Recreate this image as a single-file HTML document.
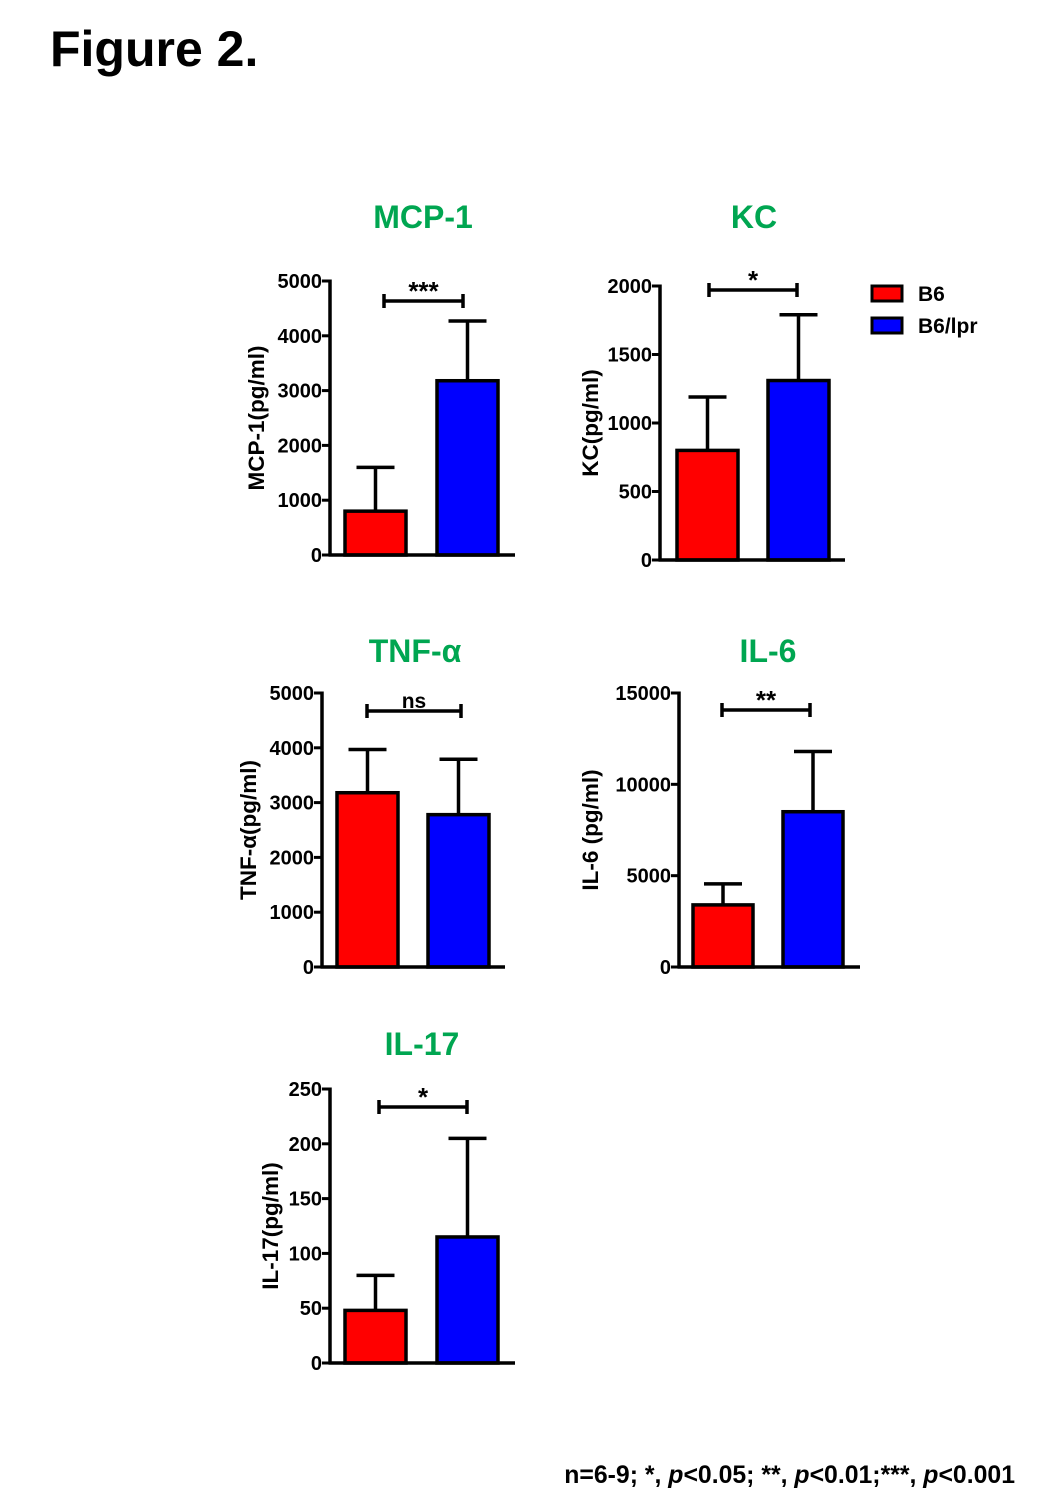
<!DOCTYPE html>
<html><head><meta charset="utf-8">
<style>
html,body{margin:0;padding:0;background:#fff;}
body{width:1037px;height:1505px;position:relative;overflow:hidden;font-family:"Liberation Sans",Arial,sans-serif;}
svg text{font-family:"Liberation Sans",Arial,sans-serif;font-weight:bold;}
</style></head>
<body>
<svg id="fig" width="1037" height="1505" viewBox="0 0 1037 1505" xmlns="http://www.w3.org/2000/svg">
<text x="50" y="66" font-size="50" fill="#000">Figure 2.</text>
<g>
<rect x="872" y="286" width="30" height="15" fill="#ff0000" stroke="#000" stroke-width="3"/>
<text x="918" y="301" font-size="21">B6</text>
<rect x="872" y="318" width="30" height="15" fill="#0000ff" stroke="#000" stroke-width="3"/>
<text x="918" y="333" font-size="21">B6/lpr</text>
</g>
<text x="1015" y="1483" font-size="24.8" text-anchor="end">n=6-9; *, <tspan font-style="italic">p</tspan>&lt;0.05; **, <tspan font-style="italic">p</tspan>&lt;0.01;***, <tspan font-style="italic">p</tspan>&lt;0.001</text>
</svg>
<script>
const categories = ['B6', 'B6/lpr'];
const panelNames = ['MCP-1', 'KC', 'TNF-α', 'IL-6', 'IL-17'];
const meanValues = [[800, 3180], [800, 1310], [3180, 2780], [3400, 8500], [48, 115]];
const errorValues = [[800, 1090], [390, 480], [790, 1010], [1150, 3300], [32, 90]];
const tickLabels = [[0,1000,2000,3000,4000,5000],[0,500,1000,1500,2000],[0,1000,2000,3000,4000,5000],[0,5000,10000,15000],[0,50,100,150,200,250]];
const sigLabels = ['***', '*', 'ns', '**', '*'];
const yTitles = ['MCP-1(pg/ml)', 'KC(pg/ml)', 'TNF-α(pg/ml)', 'IL-6 (pg/ml)', 'IL-17(pg/ml)'];

const layout = [
 {ax:330, y0:555, yTop:281, xEnd:515, bars:[345,437], bw:61, by:301, bx:[384,463], tx:423, ty:228, ytx:264},
 {ax:660, y0:560, yTop:286, xEnd:845, bars:[677,768], bw:61, by:290, bx:[709,797], tx:754, ty:228, ytx:598},
 {ax:322, y0:967, yTop:693, xEnd:505, bars:[337,428], bw:61, by:711, bx:[367,461], tx:415, ty:662, ytx:256},
 {ax:679, y0:967, yTop:693, xEnd:860, bars:[693,783], bw:60, by:710, bx:[722,810], tx:768, ty:662, ytx:598},
 {ax:330, y0:1363, yTop:1089, xEnd:515, bars:[345,437], bw:61, by:1107, bx:[379,467], tx:422, ty:1055, ytx:278}
];
const colors = ['#ff0000', '#0000ff'];
const NS = 'http://www.w3.org/2000/svg';
const svg = document.getElementById('fig');
function mk(tag, attrs, parent){ const e=document.createElementNS(NS,tag); for(const k in attrs) e.setAttribute(k,attrs[k]); (parent||svg).appendChild(e); return e; }

panelNames.forEach((name, i) => {
  const L = layout[i];
  const ticks = tickLabels[i];
  const max = ticks[ticks.length-1];
  const y = v => L.y0 - (v/max)*(L.y0 - L.yTop);
  const g = mk('g', {});
  
  
  const t = mk('text', {x:L.tx, y:L.ty, 'font-size':32, fill:'#00a651', 'text-anchor':'middle'}, g);
  t.textContent = name;
  
  
  const midY = (L.y0 + L.yTop)/2;
  const yt = mk('text', {x:L.ytx, y:midY, 'font-size':22.5, 'text-anchor':'middle', transform:'rotate(-90 '+L.ytx+' '+midY+')'}, g);
  yt.textContent = yTitles[i];
  
  
  categories.forEach((c, j) => {
    const x = L.bars[j], cx = x + L.bw/2;
    const top = y(meanValues[i][j]), et = y(meanValues[i][j] + errorValues[i][j]);
    const eb = mk('line', {x1:cx, y1:top, x2:cx, y2:et, stroke:'#000', 'stroke-width':3.5}, g);
    
    
    const cap = mk('line', {x1:cx-19, y1:et, x2:cx+19, y2:et, stroke:'#000', 'stroke-width':3.5}, g);
    
    
    const r = mk('rect', {x:x, y:top, width:L.bw, height:L.y0-top, fill:colors[j], stroke:'#000', 'stroke-width':3.5}, g);
    
    
  });
  const ya = mk('line', {x1:L.ax, y1:L.yTop-1.5, x2:L.ax, y2:L.y0+1.5, stroke:'#000', 'stroke-width':3.5}, g);
  
  
  const xa = mk('line', {x1:L.ax-1.5, y1:L.y0, x2:L.xEnd, y2:L.y0, stroke:'#000', 'stroke-width':3.5}, g);
  
  
  ticks.forEach(v => {
    const ty = y(v);
    const tk = mk('line', {x1:L.ax-8, y1:ty, x2:L.ax, y2:ty, stroke:'#000', 'stroke-width':3}, g);
    
    
    const tl = mk('text', {x:L.ax-8, y:ty+7, 'font-size':20, 'text-anchor':'end'}, g);
    tl.textContent = v;
    
    
  });
  const br = mk('path', {d:'M'+L.bx[0]+' '+(L.by-7)+'V'+(L.by+7)+'M'+L.bx[0]+' '+L.by+'H'+L.bx[1]+'M'+L.bx[1]+' '+(L.by-7)+'V'+(L.by+7), stroke:'#000', 'stroke-width':3.5, fill:'none'}, g);
  
  
  const isNs = sigLabels[i]==='ns';
  const sl = mk('text', {x:(L.bx[0]+L.bx[1])/2, y: isNs ? L.by-3 : L.by-1, 'font-size': isNs?21:26, 'text-anchor':'middle'}, g);
  sl.textContent = sigLabels[i];
  
  
});
</script>
</body></html>
